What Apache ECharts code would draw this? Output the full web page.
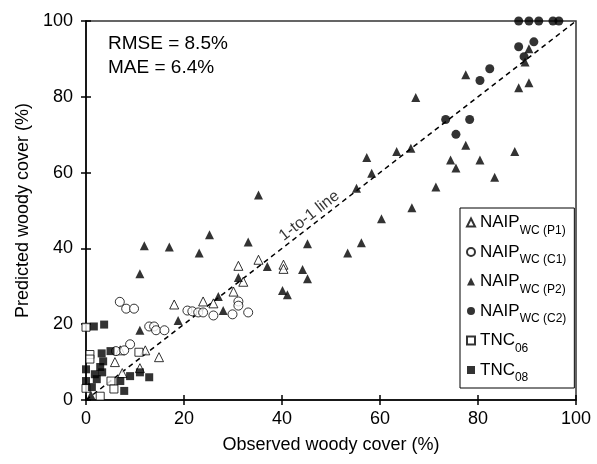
<!DOCTYPE html>
<html>
<head>
<meta charset="utf-8">
<script src="https://cdn.jsdelivr.net/npm/echarts@6/dist/echarts.min.js"></script>
<style>
html, body { margin: 0; padding: 0; background: #fff; }
#main { width: 597px; height: 464px; }
</style>
</head>
<body>
<div id="main"></div>
<script>
// observed / predicted woody cover (%), one list per source
var naipP1 = [[18.0, 25.2], [14.9, 11.3], [12.1, 13.1], [5.9, 10.0], [11.0, 8.4], [7.0, 13.1], [7.4, 7.1],
	[31.1, 35.4], [35.2, 37.0], [40.3, 35.7], [40.3, 34.6], [32.1, 31.2], [30.1, 28.6], [23.9, 26.0], [26.0, 25.5]];
var naipC1 = [[6.9, 25.9], [8.2, 24.1], [9.8, 24.1], [20.7, 23.6], [12.9, 19.4], [13.9, 19.4], [14.3, 18.4],
	[16.0, 18.4], [9.0, 14.7], [6.1, 12.9], [7.8, 13.1], [21.7, 23.4], [22.9, 23.1], [23.9, 23.1], [26.0, 22.3],
	[31.1, 26.0], [31.1, 24.9], [29.9, 22.6], [33.1, 23.1]];
var naipP2 = [[1.0, 1.3], [11.0, 18.4], [18.8, 21.0], [11.9, 40.7], [17.0, 40.4], [11.0, 33.3],
	[35.2, 54.1], [25.2, 43.6], [33.1, 41.7], [23.1, 38.8], [45.2, 41.2], [37.0, 35.2], [44.2, 34.4], [45.2, 32.0],
	[31.1, 32.3], [40.1, 28.9], [41.1, 27.8], [27.0, 27.3], [28.0, 23.6],
	[57.3, 64.0], [63.4, 65.6], [58.3, 59.8], [55.2, 55.9], [66.5, 50.7], [60.3, 47.8], [56.2, 41.5], [53.4, 38.8],
	[89.6, 89.2], [90.4, 92.7], [77.5, 85.8], [90.4, 83.7], [88.3, 82.4], [67.3, 79.8], [77.5, 67.2], [66.3, 66.4],
	[87.5, 65.6], [74.4, 63.3], [80.4, 63.3], [75.5, 61.2], [83.4, 58.8], [71.4, 56.2]];
var naipC2 = [[88.3, 100], [90.4, 100], [92.4, 100], [95.3, 100], [96.5, 100], [91.4, 94.5], [88.3, 93.2],
	[89.4, 90.6], [82.4, 87.4], [80.4, 84.3], [73.4, 74.0], [78.3, 74.0], [75.5, 70.1]];
var tnc06 = [[0, 19.2], [10.8, 12.6], [0.8, 12.0], [0.8, 10.8], [5.1, 5.0], [0, 3.1], [2.9, 1.0], [5.7, 2.9]];
var tnc08 = [[1.6, 19.4], [3.7, 19.9], [5.0, 12.9], [3.2, 12.3], [3.5, 10.2], [2.9, 8.7], [0, 8.1], [1.8, 6.8],
	[2.2, 5.5], [3.3, 7.3], [7.0, 5.0], [9.0, 6.3], [11.0, 7.3], [12.9, 6.0], [0, 5.0], [1.2, 3.4], [7.8, 2.4]];

var oneToOne = [[0, 0], [100, 100]];
var oneToOneLabelAt = [[46.7, 46.7]];
var axisTicks = [0, 20, 40, 60, 80, 100];
var statsText = ['RMSE = 8.5%', 'MAE = 6.4%'];

var fontName = 'Liberation Sans, Arial, sans-serif';
var openStyle = { color: '#fff', borderColor: '#000', borderWidth: 1 };
var fillStyle = { color: '#000' };

function makeAxis(name, gap, isX) {
	return [{
		type: 'value',
		min: axisTicks[0],
		max: axisTicks[axisTicks.length - 1],
		interval: axisTicks[1] - axisTicks[0],
		name: name,
		nameLocation: 'middle',
		nameGap: gap,
		nameTextStyle: { fontFamily: fontName, fontSize: 18, color: '#000' },
		axisLine: { show: true, lineStyle: { color: '#000', width: 1.5 } },
		axisTick: { show: true, length: 5, lineStyle: { color: '#000', width: 1.5 } },
		axisLabel: { fontFamily: fontName, fontSize: 18, color: '#000', margin: isX ? 10 : 13 },
		splitLine: { show: false }
	}, {
		// inward half of the crossing ticks
		type: 'value',
		min: axisTicks[0],
		max: axisTicks[axisTicks.length - 1],
		interval: axisTicks[1] - axisTicks[0],
		position: isX ? 'bottom' : 'left',
		axisLine: { show: false },
		axisTick: { show: true, inside: true, length: 5, lineStyle: { color: '#000', width: 1.5 } },
		axisLabel: { show: false },
		splitLine: { show: false }
	}];
}

function scatter(name, data, symbol, style, size) {
	return {
		name: name,
		type: 'scatter',
		data: data,
		symbol: symbol,
		symbolSize: size,
		itemStyle: style,
		clip: false,
		z: 3
	};
}

var chart = echarts.init(document.getElementById('main'));
var option = {
	animation: false,
	backgroundColor: '#fff',
	textStyle: { fontFamily: fontName },
	grid: {
		left: 86, right: 21, top: 21, bottom: 64,
		show: true, borderColor: '#333', borderWidth: 1.5
	},
	xAxis: makeAxis('Observed woody cover (%)', 36, true),
	yAxis: makeAxis('Predicted woody cover (%)', 44, false),
	legend: {
		orient: 'vertical',
		left: 460,
		top: 208,
		padding: [6, 8, 4, 6],
		itemGap: 7,
		itemWidth: 8,
		itemHeight: 8,
		backgroundColor: '#fff',
		borderColor: '#000',
		borderWidth: 1,
		borderRadius: 0,
		data: ['NAIP|WC (P1)', 'NAIP|WC (C1)', 'NAIP|WC (P2)', 'NAIP|WC (C2)', 'TNC|06', 'TNC|08'],
		formatter: function(name) {
			var p = name.split('|');
			return '{m|' + p[0] + '}{s|' + p[1] + '}';
		},
		textStyle: {
			color: '#000',
			rich: {
				m: { fontFamily: fontName, fontSize: 17, lineHeight: 28, color: '#000' },
				s: { fontFamily: fontName, fontSize: 12, lineHeight: 6, verticalAlign: 'bottom', color: '#000' }
			}
		}
	},
	graphic: [{
		type: 'text',
		left: 108,
		top: 32,
		style: {
			text: statsText.join('\n'),
			font: '19px ' + fontName,
			lineHeight: 24,
			fill: '#000'
		}
	}],
	series: [{
			type: 'line',
			data: oneToOne,
			showSymbol: false,
			silent: true,
			lineStyle: { color: '#000', width: 1.5, type: [5, 4] },
			z: 2
		}, {
			type: 'scatter',
			data: oneToOneLabelAt,
			symbolSize: 0,
			silent: true,
			label: {
				show: true,
				position: 'inside',
				formatter: '1-to-1 line',
				rotate: 37.7,
				offset: [0, -9],
				fontFamily: fontName,
				fontSize: 16,
				color: '#000'
			}
		},
		scatter('NAIP|WC (P1)', naipP1, 'triangle', openStyle, 9),
		scatter('NAIP|WC (C1)', naipC1, 'circle', openStyle, 9),
		scatter('NAIP|WC (P2)', naipP2, 'triangle', fillStyle, 9),
		scatter('NAIP|WC (C2)', naipC2, 'circle', fillStyle, 9),
		scatter('TNC|06', tnc06, 'rect', openStyle, 8),
		scatter('TNC|08', tnc08, 'rect', fillStyle, 8)
	]
};
chart.setOption(option);
</script>
</body>
</html>
